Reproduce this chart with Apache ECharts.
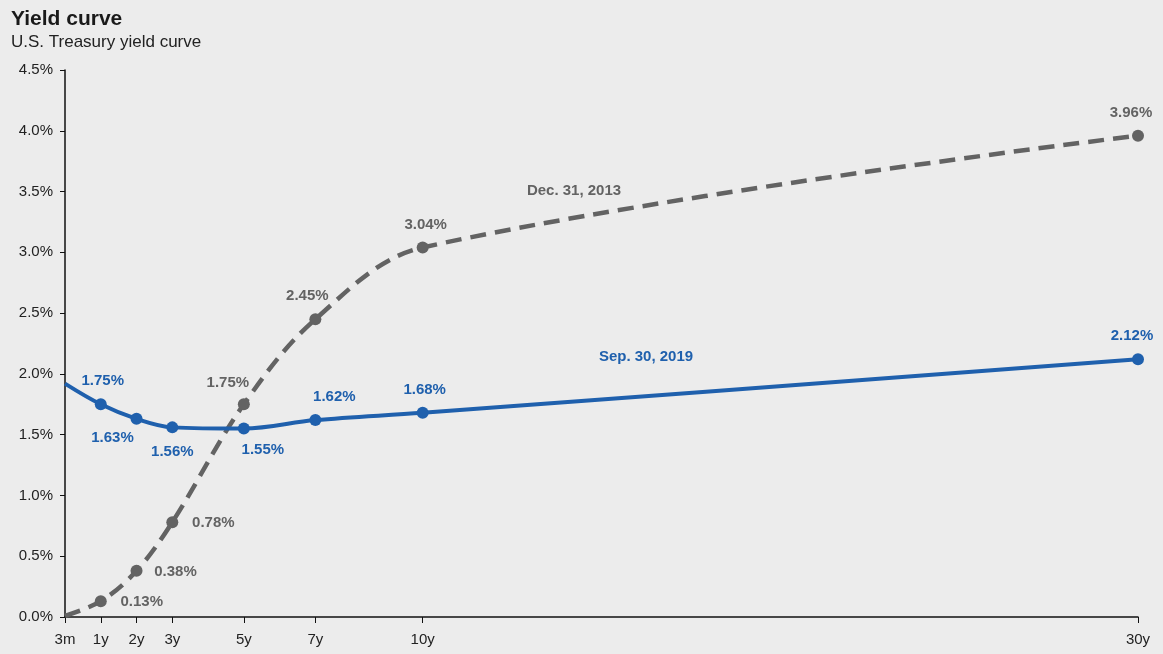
<!DOCTYPE html>
<html>
<head>
<meta charset="utf-8">
<title>Yield curve</title>
<script src="https://cdn.jsdelivr.net/npm/echarts@6/dist/echarts.min.js"></script>
<style>
  html, body { margin: 0; padding: 0; background: #ececec; }
  #chart { width: 1163px; height: 654px; }
</style>
</head>
<body>
<div id="chart"></div>
<script>
// Maturities: position on the time axis (years from the axis origin) and their labels
const tickPositions = [0, 1, 2, 3, 5, 7, 10, 30];
const tickLabels = ['3m', '1y', '2y', '3y', '5y', '7y', '10y', '30y'];

// Yields (%) at each maturity
const yieldsSep2019 = [1.92, 1.75, 1.63, 1.56, 1.55, 1.62, 1.68, 2.12];
const yieldsDec2013 = [0.01, 0.13, 0.38, 0.78, 1.75, 2.45, 3.04, 3.96];

// Label offsets (px, from each point's centre); null = no label
const offsetsSep2019 = [null, [2, -23], [-24, 19], [0, 24], [19, 21], [19, -23], [2, -23], [-6, -23]];
const offsetsDec2013 = [null, [41, 1], [39, 1], [41, 1], [-16, -21], [-8, -23], [3, -23], [-7, -23]];

const BLUE = '#1f60ad';
const GREY = '#636363';
const FONT = '"Liberation Sans", Arial, sans-serif';

function buildData(values, offsets, color) {
  return values.map((v, i) => {
    const item = { value: [tickPositions[i], v] };
    if (offsets[i]) {
      item.label = {
        show: true,
        position: 'inside',
        offset: offsets[i],
        formatter: v.toFixed(2) + '%',
        color: color,
        fontFamily: FONT,
        fontWeight: 'bold',
        fontSize: 15
      };
    } else {
      item.label = { show: false };
    }
    return item;
  });
}

const chart = echarts.init(document.getElementById('chart'), null, { renderer: 'canvas' });

chart.setOption({
  backgroundColor: '#ececec',
  animation: false,
  textStyle: { fontFamily: FONT },
  title: {
    text: 'Yield curve',
    subtext: 'U.S. Treasury yield curve',
    left: 6,
    top: 4,
    itemGap: 4,
    textStyle: { fontFamily: FONT, fontSize: 21, fontWeight: 'bold', color: '#1a1a1a' },
    subtextStyle: { fontFamily: FONT, fontSize: 17, color: '#222', padding: [0, 0, 0, 6] }
  },
  grid: { left: 65, right: 25, top: 70, bottom: 37 },
  xAxis: {
    type: 'value',
    min: 0,
    max: 30,
    axisLine: { show: true, lineStyle: { color: '#111', width: 1.5 } },
    axisTick: { show: true, length: 6, customValues: tickPositions, lineStyle: { color: '#111' } },
    axisLabel: {
      customValues: tickPositions,
      formatter: v => tickLabels[tickPositions.indexOf(v)],
      color: '#222',
      fontSize: 15,
      fontFamily: FONT,
      margin: 15
    },
    splitLine: { show: false }
  },
  yAxis: {
    type: 'value',
    min: 0,
    max: 4.5,
    interval: 0.5,
    axisLine: { show: true, lineStyle: { color: '#111', width: 1.5 } },
    axisTick: { show: true, length: 5, lineStyle: { color: '#111' } },
    axisLabel: {
      formatter: v => v.toFixed(1) + '%',
      color: '#222',
      fontSize: 15,
      fontFamily: FONT,
      margin: 12
    },
    splitLine: { show: false }
  },
  series: [
    {
      name: 'Dec. 31, 2013',
      type: 'line',
      smooth: 0.35,
      data: buildData(yieldsDec2013, offsetsDec2013, GREY),
      symbol: 'circle',
      symbolSize: v => (v[0] === 0 ? 0 : 12),
      lineStyle: { color: GREY, width: 4.5, type: [16, 9] },
      itemStyle: { color: GREY },
      z: 2
    },
    {
      name: 'Sep. 30, 2019',
      type: 'line',
      smooth: 0.35,
      data: buildData(yieldsSep2019, offsetsSep2019, BLUE),
      symbol: 'circle',
      symbolSize: v => (v[0] === 0 ? 0 : 12),
      lineStyle: { color: BLUE, width: 4 },
      itemStyle: { color: BLUE },
      z: 3
    }
  ],
  graphic: [
    {
      type: 'text',
      x: 574, y: 191,
      style: {
        text: 'Dec. 31, 2013',
        fill: GREY,
        font: 'bold 15px ' + FONT,
        align: 'center',
        verticalAlign: 'middle'
      }
    },
    {
      type: 'text',
      x: 646, y: 357,
      style: {
        text: 'Sep. 30, 2019',
        fill: BLUE,
        font: 'bold 15px ' + FONT,
        align: 'center',
        verticalAlign: 'middle'
      }
    }
  ]
});
</script>
</body>
</html>
